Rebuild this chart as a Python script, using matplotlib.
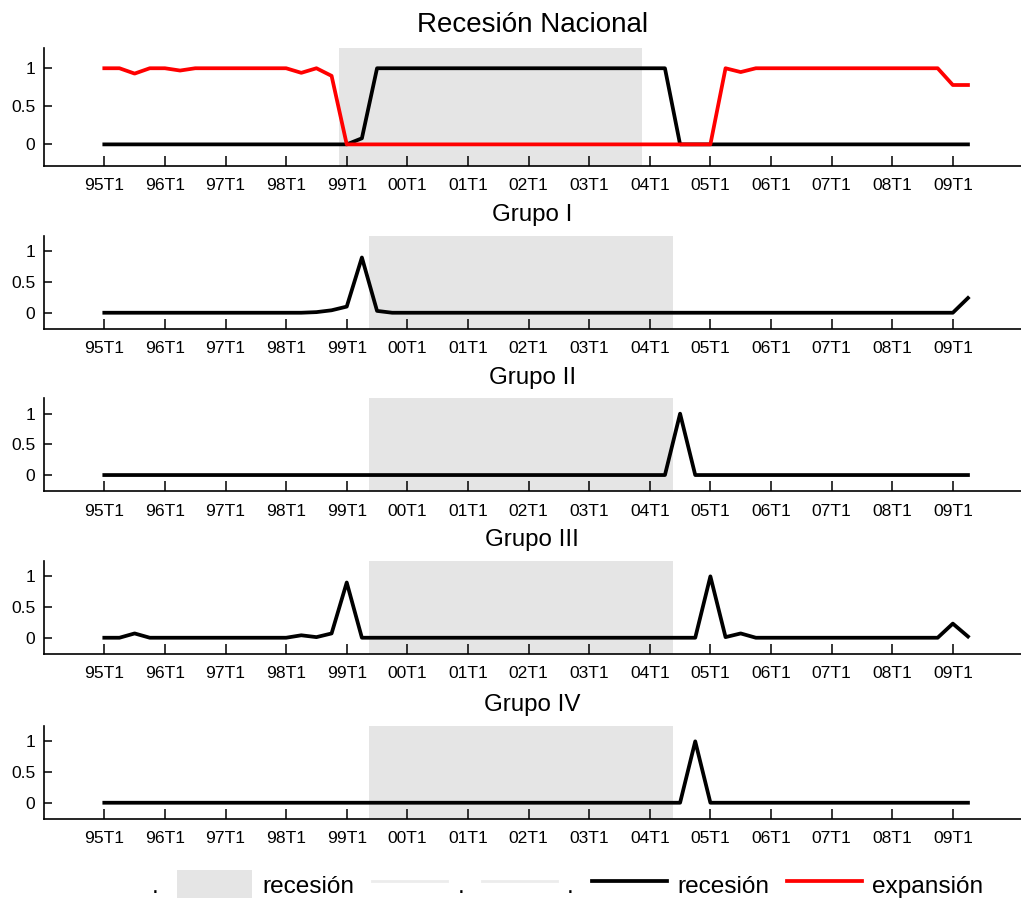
import matplotlib
matplotlib.use("Agg")
import matplotlib.pyplot as plt
from matplotlib.patches import Patch
from matplotlib.lines import Line2D

plt.rcParams['font.family'] = ['Liberation Sans', 'DejaVu Sans']

# quarters 95T1 .. 09T2
quarters = [f"{y % 100:02d}T{q}" for y in range(1995, 2010) for q in range(1, 5)][:58]
tick_labels = ["95T1", "96T1", "97T1", "98T1", "99T1", "00T1", "01T1", "02T1",
               "03T1", "04T1", "05T1", "06T1", "07T1", "08T1", "09T1"]

# recession periods (shaded)
rec_national = ("99T1", "03T4")
rec_groups = ("99T3", "04T2")

nat_expansion = [1, 1, 0.93, 1, 1, 0.97, 1, 1, 1, 1, 1, 1, 1, 0.94, 1, 0.9,
                 0, 0, 0, 0, 0, 0, 0, 0, 0, 0, 0, 0, 0, 0, 0, 0, 0, 0, 0, 0,
                 0, 0, 0, 0, 0, 1, 0.95, 1, 1, 1, 1, 1, 1, 1, 1, 1, 1, 1, 1, 1,
                 0.78, 0.78]
nat_recession = [0, 0, 0, 0, 0, 0, 0, 0, 0, 0, 0, 0, 0, 0, 0, 0, 0, 0.08,
                 1, 1, 1, 1, 1, 1, 1, 1, 1, 1, 1, 1, 1, 1, 1, 1, 1, 1, 1, 1,
                 0, 0, 0, 0, 0, 0, 0, 0, 0, 0, 0, 0, 0, 0, 0, 0, 0, 0, 0, 0]
grupo_1 = [0, 0, 0, 0, 0, 0, 0, 0, 0, 0, 0, 0, 0, 0, 0.01, 0.04, 0.1, 0.9,
           0.03, 0, 0, 0, 0, 0, 0, 0, 0, 0, 0, 0, 0, 0, 0, 0, 0, 0, 0, 0,
           0, 0, 0, 0, 0, 0, 0, 0, 0, 0, 0, 0, 0, 0, 0, 0, 0, 0, 0, 0.24]
grupo_2 = [0, 0, 0, 0, 0, 0, 0, 0, 0, 0, 0, 0, 0, 0, 0, 0, 0, 0, 0, 0,
           0, 0, 0, 0, 0, 0, 0, 0, 0, 0, 0, 0, 0, 0, 0, 0, 0, 0, 1, 0,
           0, 0, 0, 0, 0, 0, 0, 0, 0, 0, 0, 0, 0, 0, 0, 0, 0, 0]
grupo_3 = [0, 0, 0.07, 0, 0, 0, 0, 0, 0, 0, 0, 0, 0, 0.04, 0.01, 0.07, 0.9, 0,
           0, 0, 0, 0, 0, 0, 0, 0, 0, 0, 0, 0, 0, 0, 0, 0, 0, 0, 0, 0,
           0, 0, 1, 0.01, 0.07, 0, 0, 0, 0, 0, 0, 0, 0, 0, 0, 0, 0, 0, 0.23, 0.02]
grupo_4 = [0, 0, 0, 0, 0, 0, 0, 0, 0, 0, 0, 0, 0, 0, 0, 0, 0, 0, 0, 0,
           0, 0, 0, 0, 0, 0, 0, 0, 0, 0, 0, 0, 0, 0, 0, 0, 0, 0, 0, 1,
           0, 0, 0, 0, 0, 0, 0, 0, 0, 0, 0, 0, 0, 0, 0, 0, 0, 0]

groups = [("Grupo I", grupo_1), ("Grupo II", grupo_2),
          ("Grupo III", grupo_3), ("Grupo IV", grupo_4)]

W, H = 1021, 898
fig = plt.figure(figsize=(W / 100, H / 100), dpi=100)

SHADE = "#e5e5e5"
LW = 2.7
x = list(range(len(quarters)))
tick_pos = [quarters.index(t) for t in tick_labels]


def make_ax(top_px, bot_px):
    left = 43.7 / W
    return fig.add_axes([left, 1 - bot_px / H, 1 - left, (bot_px - top_px) / H])


def style(ax, ylim):
    ax.set_xlim(-4, 60.5)
    ax.set_ylim(*ylim)
    ax.set_xticks(tick_pos)
    ax.set_xticklabels(tick_labels)
    ax.set_yticks([0, 0.5, 1])
    ax.set_yticklabels(["0", "0.5", "1"])
    for s in ["top", "right"]:
        ax.spines[s].set_visible(False)
    for s in ["left", "bottom"]:
        ax.spines[s].set_linewidth(1.2)
    ax.tick_params(axis="x", direction="in", length=7.5, width=1.1,
                   labelsize=12.6, pad=9)
    ax.tick_params(axis="y", direction="in", length=6, width=1.1,
                   labelsize=12.6, pad=6)


def shade(ax, period):
    a, b = quarters.index(period[0]), quarters.index(period[1])
    ax.axvspan(a - 0.5, b + 0.5, color=SHADE, lw=0, zorder=0)


# top panel
ax0 = make_ax(47.7, 165.7)
shade(ax0, rec_national)
ax0.plot(x, nat_recession, color="black", lw=LW, zorder=3)
ax0.plot(x, nat_expansion, color="red", lw=LW, zorder=3)
style(ax0, (-0.28, 1.27))
ax0.set_title("Recesión Nacional", fontsize=20, pad=11)

tops = [236, 398.3, 561, 726]
for (name, vals), t in zip(groups, tops):
    ax = make_ax(t, t + 92.7)
    shade(ax, rec_groups)
    ax.plot(x, vals, color="black", lw=LW, zorder=3)
    style(ax, (-0.26, 1.25))
    ax.set_title(name, fontsize=17.4, pad=10.5)

handles = [
    Line2D([], [], color="white", lw=0),
    Patch(facecolor=SHADE, edgecolor="none"),
    Line2D([], [], color="#ececec", lw=2),
    Line2D([], [], color="#ececec", lw=2),
    Line2D([], [], color="black", lw=LW),
    Line2D([], [], color="red", lw=LW),
]
labels = [".", "recesión", ".", ".", "recesión", "expansión"]
fig.legend(handles, labels, loc="center", bbox_to_anchor=(525 / W, 1 - 885 / H),
           ncol=6, frameon=False, fontsize=17.6, handlelength=3.1,
           handleheight=1.55, handletextpad=0.4, columnspacing=0.72)

fig.savefig("out.png", dpi=100)
